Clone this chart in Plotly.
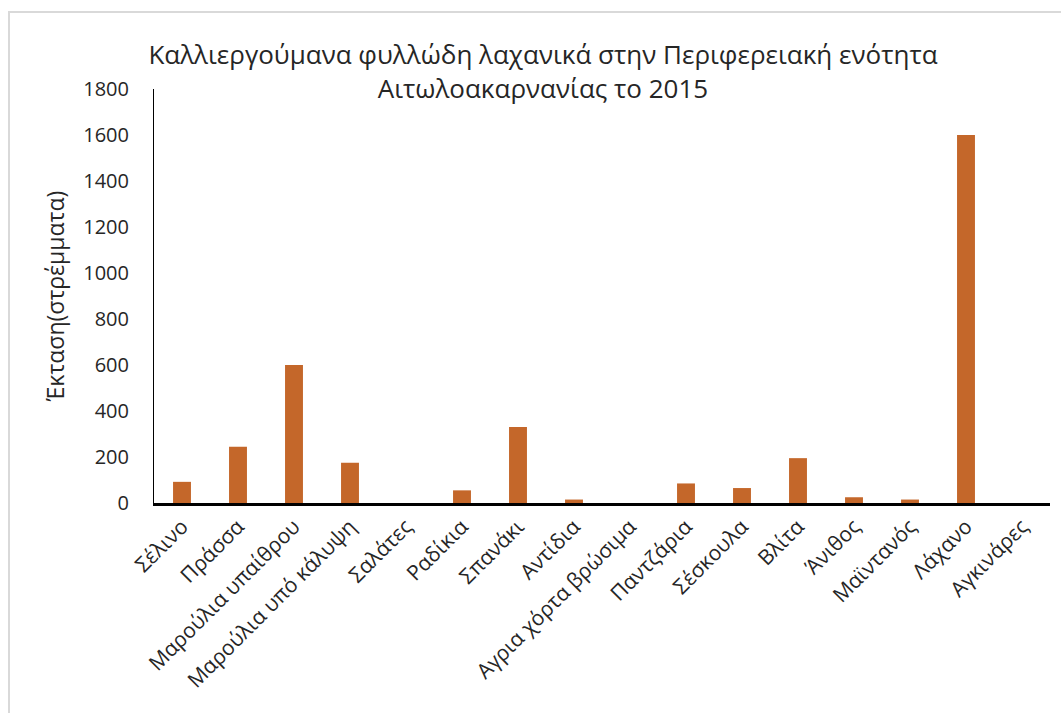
import plotly.graph_objects as go

# Καλλιεργούμενες εκτάσεις φυλλωδών λαχανικών (στρέμματα)
categories = [
    "Σέλινο", "Πράσσα", "Μαρούλια υπαίθρου", "Μαρούλια υπό κάλυψη",
    "Σαλάτες", "Ραδίκια", "Σπανάκι", "Αντίδια", "Αγρια χόρτα βρώσιμα",
    "Παντζάρια", "Σέσκουλα", "Βλίτα", "Άνιθος", "Μαϊντανός", "Λάχανο",
    "Αγκινάρες",
]
areas = [92, 245, 600, 175, 0, 55, 330, 15, 0, 85, 65, 195, 25, 15, 1600, 0]
y_ticks = [0, 200, 400, 600, 800, 1000, 1200, 1400, 1600, 1800]

FONT = "'Open Sans', sans-serif"
TEXT = "#262626"

fig = go.Figure(
    go.Bar(
        x=categories,
        y=areas,
        marker=dict(color="#C4672A", line=dict(width=0)),
        width=0.32,
    )
)

# plot area: x 154..1050, y 89..503 (pixels)
L, R, T, B = 154, 11, 89, 210
W, H = 1061, 713
pw, ph = W - L - R, H - T - B

fig.update_layout(
    width=W,
    height=H,
    margin=dict(l=L, r=R, t=T, b=B),
    paper_bgcolor="white",
    plot_bgcolor="white",
    showlegend=False,
    font=dict(family=FONT, color=TEXT, size=19),
    title=dict(
        text="Καλλιεργούμανα φυλλώδη λαχανικά στην Περιφερειακή ενότητα<br>Αιτωλοακαρνανίας το 2015",
        x=543 / W,
        xref="container",
        xanchor="center",
        y=1 - 64 / H,
        yref="container",
        yanchor="middle",
        font=dict(family=FONT, size=26, color=TEXT),
    ),
    xaxis=dict(
        tickangle=-45,
        showline=True,
        linecolor="black",
        linewidth=3,
        ticks="",
        showgrid=False,
        tickfont=dict(size=21, color=TEXT),
    ),
    yaxis=dict(
        range=[0, 1800],
        tickvals=y_ticks,
        showline=True,
        linecolor="black",
        linewidth=1,
        ticks="",
        showgrid=False,
        zeroline=False,
        ticklabelstandoff=20,
        tickfont=dict(size=20, color=TEXT),
        title=dict(text="Έκταση(στρέμματα)", standoff=12,
                   font=dict(size=23, color=TEXT)),
    ),
    shapes=[
        dict(
            type="rect",
            xref="paper",
            yref="paper",
            x0=(9 - L) / pw,
            x1=(W + 20 - L) / pw,
            y0=-(H + 20 - (H - B)) / ph,
            y1=(H - B - 12) / ph,
            line=dict(color="#D9D9D9", width=2),
            fillcolor="rgba(0,0,0,0)",
            layer="below",
        )
    ],
)

fig.write_html("out.html")
